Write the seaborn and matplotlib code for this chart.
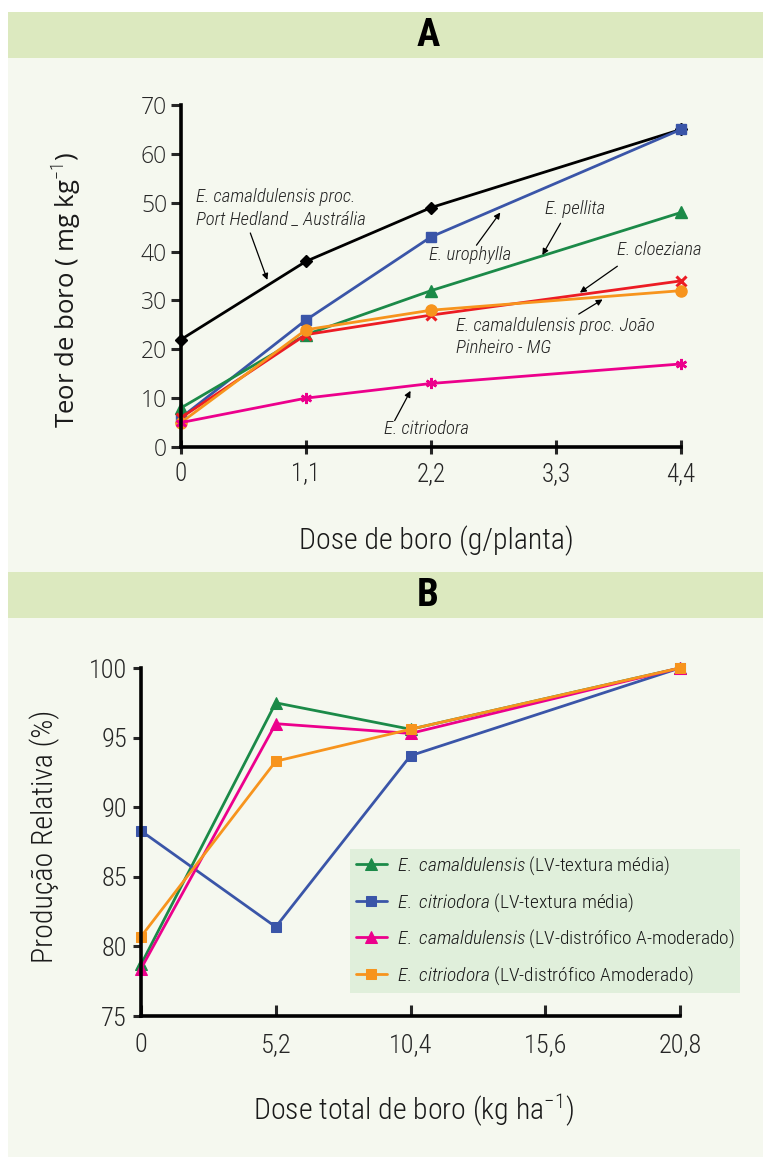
import matplotlib
matplotlib.use("Agg")
import matplotlib.pyplot as plt
import seaborn as sns
from matplotlib import font_manager
from matplotlib.patches import Rectangle

# ---- data: panel A (boron content) ----
doses_a = [0, 1.1, 2.2, 4.4]
xticks_a = [0, 1.1, 2.2, 3.3, 4.4]
xticklabels_a = ["0", "1,1", "2,2", "3,3", "4,4"]
port_hedland = [22, 38, 49, 65]
urophylla = [6, 26, 43, 65]
pellita = [8, 23, 32, 48]
cloeziana = [6, 23, 27, 34]
joao_pinheiro = [5, 24, 28, 32]
citriodora_a = [5, 10, 13, 17]

# ---- data: panel B (relative production) ----
doses_b = [0, 5.2, 10.4, 20.8]
xticks_b = [0, 5.2, 10.4, 15.6, 20.8]
xticklabels_b = ["0", "5,2", "10,4", "15,6", "20,8"]
cam_textura = [78.7, 97.5, 95.6, 100]
cit_textura = [88.3, 81.4, 93.7, 100]
cam_distrofico = [78.4, 96.0, 95.3, 100]
cit_distrofico = [80.7, 93.3, 95.6, 100]

W, H = 763, 1157
sns.set_style("ticks")

# pick a condensed face if there is one
fonts = font_manager.fontManager.ttflist
names = {f.name for f in fonts}
COND, STRETCH = "DejaVu Sans", "normal"
for cand in ["Liberation Sans Narrow", "Roboto Condensed", "Open Sans Condensed",
             "Noto Sans Condensed", "DejaVu Sans Condensed"]:
    if cand in names:
        COND = cand
        break
else:
    for fam in ["DejaVu Sans", "Noto Sans", "Open Sans", "Roboto"]:
        if any(f.name == fam and "condensed" in str(f.stretch) for f in fonts):
            COND, STRETCH = fam, "condensed"
            break
WIDE = "Open Sans" if "Open Sans" in names else "DejaVu Sans"

plt.rcParams["font.family"] = [COND, "DejaVu Sans"]
plt.rcParams["font.stretch"] = STRETCH
plt.rcParams["font.weight"] = "light"
plt.rcParams["mathtext.fontset"] = "custom"
plt.rcParams["mathtext.rm"] = f"{COND}:light:stretch={STRETCH}"
plt.rcParams["mathtext.it"] = f"{COND}:italic:light:stretch={STRETCH}"
plt.rcParams["text.color"] = "#1a1a1a"

fig = plt.figure(figsize=(W / 100, H / 100), dpi=100, facecolor="white")


def px(x0, y0, x1, y1):
    # pixel box -> figure fraction rect
    return [x0 / W, 1 - y1 / H, (x1 - x0) / W, (y1 - y0) / H]


# panel backgrounds and header bands
fig.add_artist(Rectangle((8 / W, 0), 1, 1 - 12 / H, transform=fig.transFigure,
                         facecolor="#f5f8ef", edgecolor="none", zorder=-10))
for y0, letter in [(12, "A"), (572, "B")]:
    fig.add_artist(Rectangle((8 / W, 1 - (y0 + 46) / H), 1, 46 / H,
                             transform=fig.transFigure, facecolor="#dce9bf",
                             edgecolor="none", zorder=-9))
    fig.text(428 / W, 1 - (y0 + 24) / H, letter, ha="center", va="center",
             fontsize=28, fontweight="black", color="black")


def style_axes(ax):
    ax.set_facecolor("none")
    sns.despine(ax=ax)
    for s in ("left", "bottom"):
        ax.spines[s].set_linewidth(2.6)
        ax.spines[s].set_color("black")
    ax.set_xlabel("")
    ax.set_ylabel("")


# ---------------- Panel A ----------------
axA = fig.add_axes(px(181, 105, 681, 447))
series_a = [
    (port_hedland, "black", "D", 6, 1),
    (urophylla, "#3a55a8", "s", 7.5, 1),
    (pellita, "#1b8a48", "^", 8.5, 1),
    (cloeziana, "#ec1c24", "x", 7.5, 2.2),
    (joao_pinheiro, "#f7941d", "o", 8, 1),
    (citriodora_a, "#ec008c", (6, 2, 0), 8, 1.8),
]
for vals, col, mk, ms, mew in series_a:
    sns.lineplot(x=doses_a, y=vals, ax=axA, color=col, marker=mk, markersize=ms,
                 markeredgewidth=mew, markeredgecolor=col, linewidth=2,
                 clip_on=False, legend=False)
axA.set_xlim(0, 4.4)
axA.set_ylim(0, 70)
style_axes(axA)
axA.set_xticks(xticks_a)
axA.set_xticklabels(xticklabels_a, fontsize=18)
axA.set_yticks(range(0, 71, 10))
axA.set_yticklabels([str(v) for v in range(0, 71, 10)], fontsize=16.5,
                    family=WIDE, stretch="normal")
axA.tick_params(axis="x", direction="inout", length=10, width=2.2, pad=6)
axA.tick_params(axis="y", direction="out", length=7, width=2.2, pad=3)

notes = [
    ("E. camaldulensis proc.\nPort Hedland _ Austrália", (0.13, 49), (0.61, 43.8), (0.76, 34.2)),
    ("E. urophylla", (2.18, 39.3), (2.60, 41.3), (2.81, 48.0)),
    ("E. pellita", (3.20, 48.7), (3.34, 45.8), (3.18, 39.3)),
    ("E. cloeziana", (3.84, 40.3), (3.84, 37.0), (3.51, 31.6)),
    ("E. camaldulensis proc. João\nPinheiro - MG", (2.42, 22.5), (3.50, 27.2), (3.71, 30.2)),
    ("E. citriodora", (1.79, 3.7), (1.88, 5.4), (2.02, 11.5)),
]
for txt, pos, tail, head in notes:
    axA.text(pos[0], pos[1], txt, fontsize=13.5, style="italic", ha="left",
             va="center", color="#222222", linespacing=1.3)
    axA.annotate("", xy=head, xytext=tail,
                 arrowprops=dict(arrowstyle="-|>", color="black", lw=0.9,
                                 mutation_scale=9, shrinkA=0, shrinkB=0))

fig.text(66 / W, 1 - 290 / H, r"Teor de boro ( mg kg$^{-1}$)", rotation=90,
         ha="center", va="center", fontsize=18.5, family=WIDE, stretch="normal",
         fontweight="normal")
fig.text(436 / W, 1 - 541 / H, "Dose de boro (g/planta)", ha="center",
         va="center", fontsize=21.5)

# ---------------- Panel B ----------------
axB = fig.add_axes(px(141, 668, 680, 1016))
series_b = [
    (cam_textura, "#1b8a48", "^", 9, r"$\mathit{E.\ camaldulensis}$ (LV-textura média)"),
    (cit_textura, "#3a55a8", "s", 7.5, r"$\mathit{E.\ citriodora}$ (LV-textura média)"),
    (cam_distrofico, "#ec008c", "^", 9, r"$\mathit{E.\ camaldulensis}$ (LV-distrófico A-moderado)"),
    (cit_distrofico, "#f7941d", "s", 7.5, r"$\mathit{E.\ citriodora}$ (LV-distrófico Amoderado)"),
]
for vals, col, mk, ms, lab in series_b:
    sns.lineplot(x=doses_b, y=vals, ax=axB, color=col, marker=mk, markersize=ms,
                 markeredgecolor=col, linewidth=2, clip_on=False, label=lab)
axB.set_xlim(0, 20.8)
axB.set_ylim(75, 100)
style_axes(axB)
axB.set_xticks(xticks_b)
axB.set_xticklabels(xticklabels_b, fontsize=19)
axB.set_yticks(range(75, 101, 5))
axB.set_yticklabels([str(v) for v in range(75, 101, 5)], fontsize=19)
axB.tick_params(axis="x", direction="in", length=8, width=2.2, pad=12)
axB.tick_params(axis="y", direction="out", length=6, width=2.2, pad=4)

leg = axB.legend(loc="upper left", bbox_to_anchor=((350 - 141) / 539, (1016 - 849) / 348),
                 fontsize=14, frameon=True, fancybox=False, handlelength=1.6,
                 handletextpad=0.5, labelspacing=0.72, borderpad=0.3,
                 borderaxespad=0)
leg.get_frame().set_facecolor("#e0efdb")
leg.get_frame().set_edgecolor("none")
leg.get_frame().set_alpha(1)

fig.text(45 / W, 1 - 836 / H, "Produção Relativa (%)", rotation=90,
         ha="center", va="center", fontsize=21.5)
fig.text(413 / W, 1 - 1110 / H, r"Dose total de boro (kg ha$^{-1}$)",
         ha="center", va="center", fontsize=21.5)

fig.savefig("out.png", dpi=100, facecolor="white")
